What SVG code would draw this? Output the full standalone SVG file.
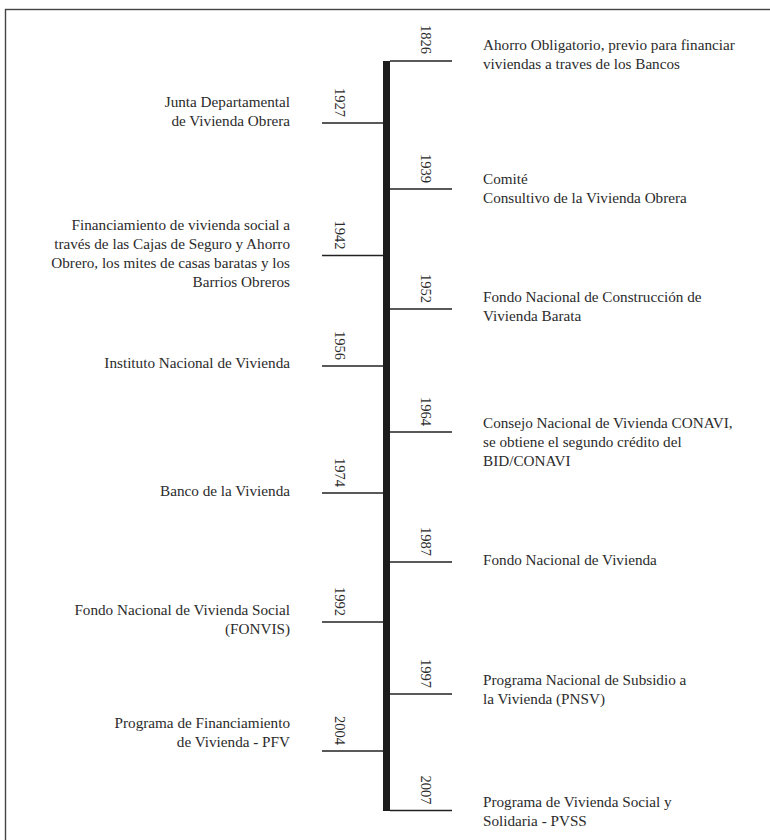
<svg xmlns="http://www.w3.org/2000/svg" width="770" height="840" viewBox="0 0 770 840">
<style>
.t{font-family:"Liberation Serif","Times New Roman",serif;font-size:15.2px;fill:#2b2b2b}
.y{font-family:"Liberation Serif","Times New Roman",serif;font-size:14.5px;fill:#2b2b2b;text-anchor:end}
.l{text-anchor:end}
.tick{stroke:#222;stroke-width:1.4}
</style>
<rect x="5.5" y="9.5" width="820" height="900" fill="#fff" stroke="#444" stroke-width="1.4"/>
<g id="connectors">
<rect x="383" y="61" width="7" height="750" fill="#1c1c1c"/>
<line class="tick" x1="390" y1="61" x2="452" y2="61"/>
<line class="tick" x1="322" y1="123" x2="383" y2="123"/>
<line class="tick" x1="390" y1="189" x2="452" y2="189"/>
<line class="tick" x1="322" y1="255.5" x2="383" y2="255.5"/>
<line class="tick" x1="390" y1="309" x2="452" y2="309"/>
<line class="tick" x1="322" y1="366" x2="383" y2="366"/>
<line class="tick" x1="390" y1="432" x2="452" y2="432"/>
<line class="tick" x1="322" y1="493" x2="383" y2="493"/>
<line class="tick" x1="390" y1="562" x2="452" y2="562"/>
<line class="tick" x1="322" y1="622" x2="383" y2="622"/>
<line class="tick" x1="390" y1="694" x2="452" y2="694"/>
<line class="tick" x1="322" y1="751" x2="383" y2="751"/>
<line class="tick" x1="390" y1="810.5" x2="452" y2="810.5"/>
</g>
<g id="n1826">
<text class="y" transform="translate(421,54) rotate(90)">1826</text>
<text class="t" x="483" y="50">Ahorro Obligatorio, previo para financiar</text>
<text class="t" x="483" y="69">viviendas a traves de los Bancos</text>
</g>
<g id="n1927">
<text class="y" transform="translate(335,117) rotate(90)">1927</text>
<text class="t l" x="290" y="107">Junta Departamental</text>
<text class="t l" x="290" y="126">de Vivienda Obrera</text>
</g>
<g id="n1939">
<text class="y" transform="translate(421,183) rotate(90)">1939</text>
<text class="t" x="483" y="184">Comité</text>
<text class="t" x="483" y="203">Consultivo de la Vivienda Obrera</text>
</g>
<g id="n1942">
<text class="y" transform="translate(335,249.5) rotate(90)">1942</text>
<text class="t l" x="290" y="230">Financiamiento de vivienda social a</text>
<text class="t l" x="290" y="249">través de las Cajas de Seguro y Ahorro</text>
<text class="t l" x="290" y="268">Obrero, los mites de casas baratas y los</text>
<text class="t l" x="290" y="287">Barrios Obreros</text>
</g>
<g id="n1952">
<text class="y" transform="translate(421,303) rotate(90)">1952</text>
<text class="t" x="483" y="302">Fondo Nacional de Construcción de</text>
<text class="t" x="483" y="321">Vivienda Barata</text>
</g>
<g id="n1956">
<text class="y" transform="translate(335,360) rotate(90)">1956</text>
<text class="t l" x="290" y="368">Instituto Nacional de Vivienda</text>
</g>
<g id="n1964">
<text class="y" transform="translate(421,426) rotate(90)">1964</text>
<text class="t" x="483" y="428">Consejo Nacional de Vivienda CONAVI,</text>
<text class="t" x="483" y="447">se obtiene el segundo crédito del</text>
<text class="t" x="483" y="466">BID/CONAVI</text>
</g>
<g id="n1974">
<text class="y" transform="translate(335,487) rotate(90)">1974</text>
<text class="t l" x="290" y="496">Banco de la Vivienda</text>
</g>
<g id="n1987">
<text class="y" transform="translate(421,556) rotate(90)">1987</text>
<text class="t" x="483" y="565">Fondo Nacional de Vivienda</text>
</g>
<g id="n1992">
<text class="y" transform="translate(335,616) rotate(90)">1992</text>
<text class="t l" x="290" y="615">Fondo Nacional de Vivienda Social</text>
<text class="t l" x="290" y="634">(FONVIS)</text>
</g>
<g id="n1997">
<text class="y" transform="translate(421,688) rotate(90)">1997</text>
<text class="t" x="483" y="685">Programa Nacional de Subsidio a</text>
<text class="t" x="483" y="704">la Vivienda (PNSV)</text>
</g>
<g id="n2004">
<text class="y" transform="translate(335,745) rotate(90)">2004</text>
<text class="t l" x="290" y="728">Programa de Financiamiento</text>
<text class="t l" x="290" y="747">de Vivienda - PFV</text>
</g>
<g id="n2007">
<text class="y" transform="translate(421,804.5) rotate(90)">2007</text>
<text class="t" x="483" y="807">Programa de Vivienda Social y</text>
<text class="t" x="483" y="826">Solidaria - PVSS</text>
</g>
</svg>
